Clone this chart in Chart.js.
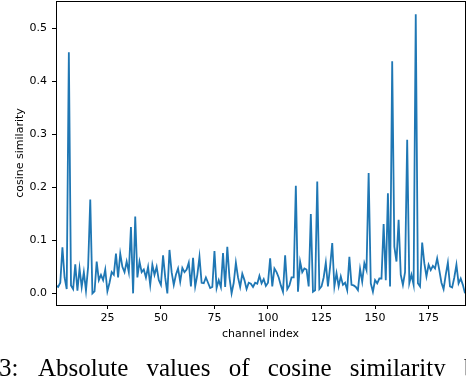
<!DOCTYPE html>
<html>
<head>
<meta charset="utf-8">
<script src="https://cdn.jsdelivr.net/npm/chart.js@4"></script>
<style>
  body { margin: 0; background: #fff; overflow: hidden; width: 466px; height: 376px; position: relative; }
  #caption { position: absolute; left: 0; top: 354px; width: 466px; font-family: "Liberation Serif", serif; font-size: 25px; white-space: nowrap; color: #000; }
  #caption span { position: absolute; top: 0; }
</style>
</head>
<body>
<canvas id="chart" width="466" height="376"></canvas>
<div id="caption"><span style="left:-1px">3:</span><span style="left:38px; word-spacing:12px">Absolute values of cosine similarity between</span></div>
<script>
// チャンネル番号 (1〜192)
const channels = [];
for (let c = 1; c <= 192; c++) channels.push(c);

// 各チャンネルのコサイン類似度
const similarity = [
    0.015, 0.012, 0.020, 0.087, 0.030, 0.008, 0.455, 0.015, 0.008, 0.055,
    0.005, 0.047, 0.012, 0.040, 0.005, 0.050, 0.177, 0.000, 0.004, 0.060,
    0.025, 0.035, 0.025, 0.045, 0.004, 0.020, 0.040, 0.035, 0.075, 0.030,
    0.075, 0.050, 0.040, 0.060, 0.040, 0.125, 0.000, 0.145, 0.030, 0.060,
    0.040, 0.045, 0.030, 0.050, 0.016, 0.054, 0.035, 0.050, 0.025, 0.016,
    0.072, 0.030, 0.000, 0.082, 0.040, 0.016, 0.035, 0.047, 0.022, 0.048,
    0.040, 0.045, 0.058, 0.013, 0.067, 0.013, 0.035, 0.069, 0.020, 0.019,
    0.030, 0.020, 0.010, 0.012, 0.080, 0.010, 0.025, 0.012, 0.076, 0.012,
    0.088, 0.030, 0.000, 0.020, 0.058, 0.030, 0.012, 0.037, 0.025, 0.008,
    0.020, 0.018, 0.012, 0.020, 0.018, 0.033, 0.019, 0.027, 0.014, 0.020,
    0.066, 0.013, 0.047, 0.040, 0.030, 0.015, 0.003, 0.072, 0.008, 0.015,
    0.030, 0.030, 0.203, 0.003, 0.060, 0.040, 0.047, 0.045, 0.013, 0.150,
    0.003, 0.006, 0.211, 0.008, 0.013, 0.030, 0.058, 0.013, 0.050, 0.095,
    0.013, 0.038, 0.013, 0.032, 0.016, 0.020, 0.006, 0.069, 0.016, 0.015,
    0.012, 0.006, 0.046, 0.022, 0.057, 0.044, 0.227, 0.019, 0.003, 0.025,
    0.019, 0.028, 0.028, 0.131, 0.025, 0.189, 0.013, 0.438, 0.088, 0.060,
    0.139, 0.035, 0.016, 0.040, 0.290, 0.019, 0.035, 0.016, 0.527, 0.019,
    0.013, 0.096, 0.057, 0.032, 0.054, 0.044, 0.052, 0.047, 0.066, 0.044,
    0.020, 0.008, 0.035, 0.058, 0.013, 0.011, 0.030, 0.054, 0.019, 0.028,
    0.016, 0.000
];

// 目盛り
const xTicks = [25, 50, 75, 100, 125, 150, 175];
const yTicks = [0.0, 0.1, 0.2, 0.3, 0.4, 0.5];

const tickFont = { family: "DejaVu Sans", size: 11 };

// 枠線（上と右）を描くプラグイン
const frame = {
    id: "frame",
    afterDraw(chart) {
        const { ctx, chartArea } = chart;
        ctx.save();
        ctx.strokeStyle = "#000";
        ctx.lineWidth = 1;
        ctx.strokeRect(Math.round(chartArea.left) + 0.5, Math.round(chartArea.top) + 0.5,
            Math.round(chartArea.right - chartArea.left), Math.round(chartArea.bottom - chartArea.top));
        ctx.restore();
    },
};

const ctx = document.getElementById("chart").getContext("2d");
new Chart(ctx, {
    type: "line",
    data: {
        datasets: [
            {
                data: channels.map((c, i) => ({ x: c, y: similarity[i] })),
                borderColor: "#1f77b4",
                borderWidth: 1.8,
                pointRadius: 0,
                tension: 0,
                fill: false,
            },
        ],
    },
    options: {
        responsive: false,
        animation: false,
        layout: { padding: { left: 0, right: 1, top: 1, bottom: 35 } },
        plugins: { legend: { display: false }, tooltip: { enabled: false } },
        scales: {
            x: {
                type: "linear",
                min: 1,
                max: 192,
                afterFit(axis) { axis.height = 36; axis.paddingLeft = 0; axis.paddingRight = 0; },
                afterBuildTicks(axis) { axis.ticks = xTicks.map(v => ({ value: v })); },
                grid: { drawOnChartArea: false, drawTicks: true, tickLength: 4, color: "#000" },
                border: { display: true, color: "#000" },
                ticks: { font: tickFont, color: "#000", padding: 3, maxRotation: 0 },
                title: { display: true, text: "channel index", font: tickFont, color: "#000", padding: 0 },
            },
            y: {
                type: "linear",
                min: -0.022,
                max: 0.552,
                afterFit(axis) { axis.width = 56; axis.paddingTop = 0; axis.paddingBottom = 0; },
                afterBuildTicks(axis) { axis.ticks = yTicks.map(v => ({ value: v })); },
                grid: { drawOnChartArea: false, drawTicks: true, tickLength: 4, color: "#000" },
                border: { display: true, color: "#000" },
                ticks: { font: tickFont, color: "#000", padding: 5, callback: v => v.toFixed(1) },
                title: { display: true, text: "cosine similarity", font: tickFont, color: "#000", padding: { top: 14, bottom: 0 } },
            },
        },
    },
    plugins: [frame],
});
</script>
</body>
</html>
